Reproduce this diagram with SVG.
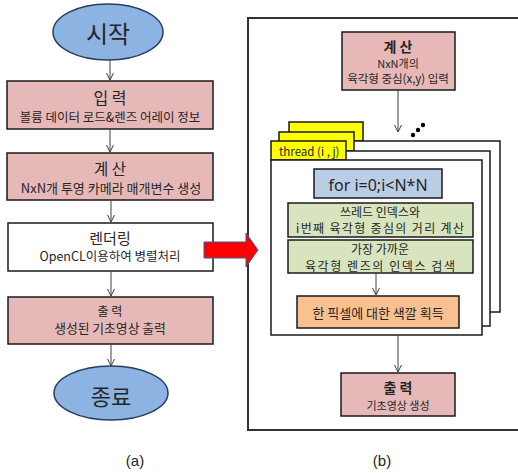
<svg xmlns="http://www.w3.org/2000/svg" width="518" height="473" viewBox="0 0 518 473">
<defs>
<marker id="ah" markerWidth="10" markerHeight="10" refX="8" refY="4" orient="auto" markerUnits="userSpaceOnUse">
<path d="M1,0.5 L8,4 L1,7.5" fill="none" stroke="#404040" stroke-width="1"/>
</marker>
</defs>
<style>
text{font-family:"Noto Sans CJK KR","Noto Sans",sans-serif;fill:#262626;text-anchor:middle}
.lat{font-family:"Liberation Sans",Arial,sans-serif}
.term{fill:#8db3e2;stroke:#243f60;stroke-width:1.5}
.pink{fill:#e6b9b8;stroke:#1a1a1a;stroke-width:1.5}
.white{fill:#ffffff;stroke:#1a1a1a;stroke-width:1.5}
.blue{fill:#b9cde5;stroke:#1a1a1a;stroke-width:1.5}
.green{fill:#d7e4bd;stroke:#1a1a1a;stroke-width:1.5}
.orange{fill:#fac090;stroke:#1a1a1a;stroke-width:1.5}
.tab{fill:#ffff00;stroke:#1a1a1a;stroke-width:1.5}
.frame{fill:#ffffff;stroke:#1a1a1a;stroke-width:1.5}
.conn{stroke:#404040;stroke-width:1;fill:none;marker-end:url(#ah)}
</style>
<rect width="518" height="473" fill="#ffffff"/>

<!-- panel (b) border -->
<path id="panel" d="M520,18 H248 V430 H520" fill="none" stroke="#333333" stroke-width="2"/>

<!-- left flow -->
<g id="start">
<ellipse class="term" cx="108" cy="32" rx="55" ry="28"/>
<text x="108" y="43" font-size="24">시작</text>
</g>
<g id="input">
<rect class="pink" x="7" y="81" width="206" height="48"/>
<text x="110" y="104" font-size="16">입 력</text>
<text x="110" y="122" font-size="12.5">볼륨 데이터 로드&amp;렌즈 어레이 정보</text>
</g>
<g id="calc">
<rect class="pink" x="7" y="153" width="206" height="47"/>
<text x="110" y="175" font-size="15.5">계 산</text>
<text x="111" y="193" font-size="13">NxN개 투영 카메라 매개변수 생성</text>
</g>
<g id="render">
<rect class="white" x="8" y="223" width="205" height="48"/>
<text x="110" y="244" font-size="15">렌더링</text>
<text x="110" y="261" font-size="12.5">OpenCL이용하여 병렬처리</text>
</g>
<g id="output">
<rect class="pink" x="8" y="297" width="205" height="47"/>
<text x="110" y="316" font-size="12">출 력</text>
<text x="110" y="333" font-size="12.8">생성된 기초영상 출력</text>
</g>
<g id="end">
<ellipse class="term" cx="111" cy="393" rx="57" ry="27"/>
<text x="111" y="405" font-size="22">종료</text>
</g>
<text class="lat" x="135" y="466" font-size="15">(a)</text>

<!-- right panel nodes -->
<g id="rcalc">
<rect class="pink" x="342" y="32" width="113" height="58"/>
<text x="398" y="52" font-size="14" font-weight="bold">계 산</text>
<text x="398" y="67.5" font-size="11">NxN개의</text>
<text x="398" y="83" font-size="11.5">육각형 중심(x,y) 입력</text>
</g>
<g id="dots" fill="#000000">
<circle cx="413" cy="135" r="2.2"/>
<circle cx="418" cy="130" r="2.2"/>
<circle cx="423" cy="125" r="2.2"/>
</g>
<g id="thread3">
<rect class="tab" x="289" y="122" width="74" height="19"/>
<rect class="frame" x="289" y="141" width="211" height="171"/>
</g>
<g id="thread2">
<rect class="tab" x="279" y="132" width="75" height="19"/>
<rect class="frame" x="279" y="151" width="211" height="175"/>
</g>
<g id="thread1">
<rect class="tab" x="271" y="141" width="75" height="19"/>
<rect class="frame" x="271" y="160" width="211" height="175"/>
<text x="279" y="156" font-size="11.5" style="text-anchor:start">thread (i , j)</text>
</g>
<g id="forloop">
<rect class="blue" x="314" y="169" width="128" height="29"/>
<text x="378" y="191" font-size="16" style="font-family:'Noto Sans',sans-serif">for i=0;i&lt;N*N</text>
</g>
<g id="dist">
<rect class="green" x="288" y="203" width="185" height="34"/>
<text x="380" y="217" font-size="12">쓰레드 인덱스와</text>
<text x="380" y="233" font-size="12" textLength="168">i번째 육각형 중심의 거리 계산</text>
</g>
<g id="search">
<rect class="green" x="288" y="240" width="185" height="33"/>
<text x="380" y="254" font-size="12">가장 가까운</text>
<text x="380" y="270.5" font-size="12" textLength="150">육각형 렌즈의 인덱스 검색</text>
</g>
<g id="color">
<rect class="orange" x="297" y="296" width="162" height="32"/>
<text x="378" y="318" font-size="13">한 픽셀에 대한 색깔 획득</text>
</g>
<g id="routput">
<rect class="pink" x="341" y="373" width="114" height="43"/>
<text x="398" y="393" font-size="14" font-weight="bold">출 력</text>
<text x="398" y="410" font-size="11">기초영상 생성</text>
</g>
<text class="lat" x="382" y="466" font-size="15">(b)</text>

<!-- connectors -->
<g id="connectors">
<line class="conn" x1="110" y1="60" x2="110" y2="80"/>
<line class="conn" x1="110" y1="129" x2="110" y2="152"/>
<line class="conn" x1="111" y1="200" x2="111" y2="222"/>
<line class="conn" x1="111" y1="271" x2="111" y2="296"/>
<line class="conn" x1="111" y1="344" x2="111" y2="366"/>
<line class="conn" x1="398" y1="90" x2="398" y2="132"/>
<line class="conn" x1="376" y1="273" x2="376" y2="295"/>
<line class="conn" x1="398" y1="335" x2="398" y2="372"/>
<polygon id="bigarrow" points="204,242 246,242 246,233 258,250 246,267 246,258 204,258" fill="#ff0000" stroke="#385d8a" stroke-width="1"/>
</g>
</svg>
